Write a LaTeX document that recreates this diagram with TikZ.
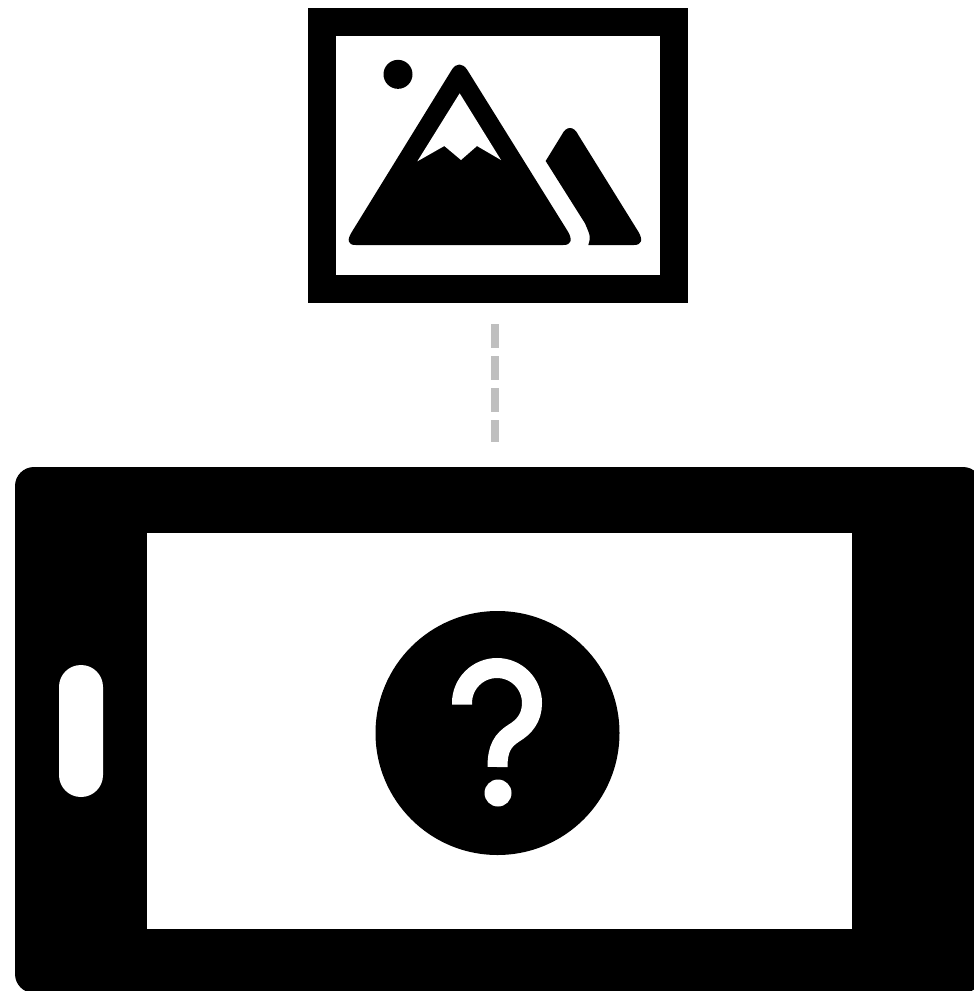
\documentclass[tikz,border=0pt]{standalone}
\begin{document}
\begin{tikzpicture}[x=1pt,y=-1pt,
  blk/.style={fill=black,draw=none},
  wht/.style={fill=white,draw=none},
  dashline/.style={draw=black!25,line width=8pt,dash pattern=on 24pt off 8pt}]
\useasboundingbox (0,0) rectangle (974,991);
\fill[white] (0,0) rectangle (974,991);
% picture frame
\fill[blk] (308,8) rectangle (688,303);
\fill[wht] (336,36) rectangle (660,275);
\begin{scope}[shift={(330,40)},x=0.33333pt,y=-0.33333pt]
  \fill[blk] (204,103) circle[radius=14.5pt];
  \fill[blk] (365,90) .. controls (378,68) and (398,68) .. (412,90) -- (714,575)
     .. controls (728,600) and (724,615) .. (700,615) -- (77,615)
     .. controls (53,615) and (50,600) .. (66,575) -- cycle;
  \fill[wht] (389,160) -- (513,360) -- (441,318) -- (393,360) -- (343,318) -- (262,364) -- cycle;
  \fill[blk] (647,363) -- (695,285) .. controls (708,257) and (732,257) .. (745,285) -- (925,575)
     .. controls (940,600) and (935,615) .. (912,615) -- (775,615)
     .. controls (782,590) .. (765,550) -- cycle;
\end{scope}
% phone
\fill[blk,rounded corners=19pt] (15,467) rectangle (982,993);
\fill[wht] (147,533) rectangle (852,929);
\fill[wht,rounded corners=21.9pt] (59,665) rectangle (103,797);
\fill[blk] (497.5,733) circle[radius=122pt];
\draw[white,line width=20pt] (462,704.5) -- (462,703) arc[start angle=180,end angle=0,radius=35pt]
   .. controls (532,718) and (524,727) .. (514,733)
   .. controls (503,740) and (497.5,748) .. (497.5,767);
\fill[wht] (498,793) circle[radius=13.5pt];
\coordinate (phone) at (495,442);
\coordinate (dashstart) at (495,324);
\draw[dashline] (dashstart) -- (phone);
\end{tikzpicture}
\end{document}
